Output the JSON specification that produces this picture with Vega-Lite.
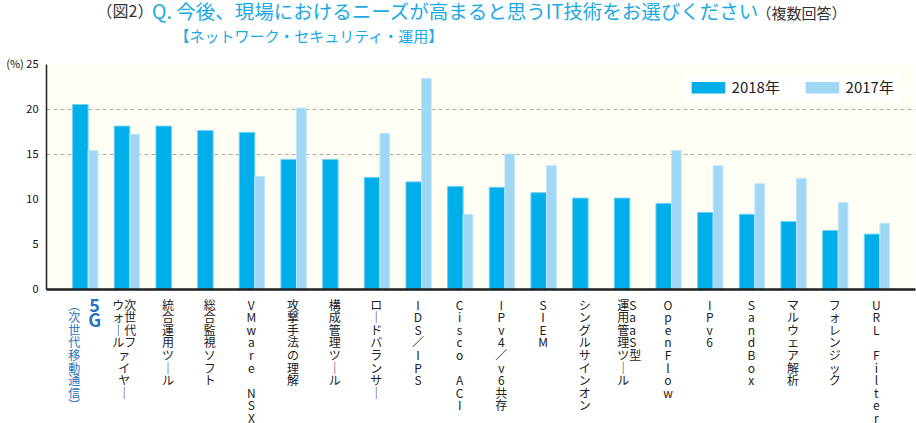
{
  "$schema": "https://vega.github.io/schema/vega-lite/v6.json",
  "width": 869,
  "height": 225,
  "autosize": {"type": "none"},
  "padding": {"left": 46, "top": 64, "right": 1, "bottom": 134},
  "background": "white",
  "view": {"fill": "#FFFEF4", "stroke": null},
  "title": {
    "text": "Q. 今後、現場におけるニーズが高まると思うIT技術をお選びください",
    "subtitle": "\u200b\u3000\u3000【ネットワーク・セキュリティ・運用】",
    "anchor": "start",
    "frame": "group",
    "dx": 106,
    "dy": 43,
    "offset": 0,
    "font": "Noto Sans CJK JP",
    "fontSize": 19.5,
    "fontWeight": "normal",
    "color": "#1AA9E3",
    "subtitleFont": "Noto Sans CJK JP",
    "subtitleFontSize": 15,
    "subtitleColor": "#1AA9E3",
    "subtitlePadding": 7
  },
  "data": {
    "values": [
      {"item": "5G（次世代移動通信）", "year": "2018年", "value": 20.5},
      {"item": "5G（次世代移動通信）", "year": "2017年", "value": 15.4},
      {"item": "次世代ファイヤーウォール", "year": "2018年", "value": 18.1},
      {"item": "次世代ファイヤーウォール", "year": "2017年", "value": 17.2},
      {"item": "統合運用ツール", "year": "2018年", "value": 18.1},
      {"item": "総合監視ソフト", "year": "2018年", "value": 17.6},
      {"item": "VMware NSX", "year": "2018年", "value": 17.4},
      {"item": "VMware NSX", "year": "2017年", "value": 12.5},
      {"item": "攻撃手法の理解", "year": "2018年", "value": 14.4},
      {"item": "攻撃手法の理解", "year": "2017年", "value": 20.1},
      {"item": "構成管理ツール", "year": "2018年", "value": 14.4},
      {"item": "ロードバランサー", "year": "2018年", "value": 12.4},
      {"item": "ロードバランサー", "year": "2017年", "value": 17.3},
      {"item": "IDS／IPS", "year": "2018年", "value": 11.9},
      {"item": "IDS／IPS", "year": "2017年", "value": 23.4},
      {"item": "Cisco ACI", "year": "2018年", "value": 11.4},
      {"item": "Cisco ACI", "year": "2017年", "value": 8.3},
      {"item": "IPv4／v6共存", "year": "2018年", "value": 11.3},
      {"item": "IPv4／v6共存", "year": "2017年", "value": 15.0},
      {"item": "SIEM", "year": "2018年", "value": 10.7},
      {"item": "SIEM", "year": "2017年", "value": 13.7},
      {"item": "シングルサインオン", "year": "2018年", "value": 10.1},
      {"item": "SaaS型運用管理ツール", "year": "2018年", "value": 10.1},
      {"item": "OpenFlow", "year": "2018年", "value": 9.5},
      {"item": "OpenFlow", "year": "2017年", "value": 15.4},
      {"item": "IPv6", "year": "2018年", "value": 8.5},
      {"item": "IPv6", "year": "2017年", "value": 13.7},
      {"item": "SandBox", "year": "2018年", "value": 8.3},
      {"item": "SandBox", "year": "2017年", "value": 11.7},
      {"item": "マルウェア解析", "year": "2018年", "value": 7.5},
      {"item": "マルウェア解析", "year": "2017年", "value": 12.3},
      {"item": "フォレンジック", "year": "2018年", "value": 6.5},
      {"item": "フォレンジック", "year": "2017年", "value": 9.6},
      {"item": "URL Filter", "year": "2018年", "value": 6.1},
      {"item": "URL Filter", "year": "2017年", "value": 7.3}
    ]
  },
  "encoding": {
    "x": {
      "field": "item",
      "type": "nominal",
      "sort": null,
      "scale": {
        "domain": ["5G（次世代移動通信）", "次世代ファイヤーウォール", "統合運用ツール", "総合監視ソフト", "VMware NSX", "攻撃手法の理解", "構成管理ツール", "ロードバランサー", "IDS／IPS", "Cisco ACI", "IPv4／v6共存", "SIEM", "シングルサインオン", "SaaS型運用管理ツール", "OpenFlow", "IPv6", "SandBox", "マルウェア解析", "フォレンジック", "URL Filter"],
        "paddingInner": 0,
        "paddingOuter": 0.4275
      },
      "axis": {
        "zindex": 1,
        "domain": true,
        "domainColor": "#1E1E1E",
        "domainWidth": 2.5,
        "ticks": false,
        "labelAngle": 0,
        "labelOverlap": false,
        "labelFont": "Noto Sans CJK JP",
        "labelFontSize": 12,
        "labelLineHeight": 12.6,
        "labelBaseline": "top",
        "labelPadding": 11,
        "labelColor": {"expr": "datum.value == '5G（次世代移動通信）' ? '#2A72BE' : '#222222'"},
        "labelOffset": {"expr": "datum.value == '5G（次世代移動通信）' ? -10.5 : datum.value == 'SaaS型運用管理ツール' ? -9 : datum.value == '次世代ファイヤーウォール' ? -2 : 0"},
        "labelAlign": {"expr": "datum.value == 'SaaS型運用管理ツール' ? 'left' : 'center'"},
        "labelExpr": "datum.value == '5G（次世代移動通信）' ? ['︵','次','世','代','移','動','通','信','︶'] : datum.value == '次世代ファイヤーウォール' ? ['ウ次','ォ世','｜代','ルフ','　ァ','　イ','　ヤ','　｜'] : datum.value == 'SaaS型運用管理ツール' ? ['運S','用a','管a','理S','ツ型','｜','ル'] : split(replace(replace(datum.value, regexp('ー','g'), '｜'), regexp(' ','g'), '\u200b'), '')",
        "title": "（複数回答）",
        "titleFont": "Noto Sans CJK JP",
        "titleFontSize": 15,
        "titleFontWeight": "normal",
        "titleColor": "#333333",
        "titleAlign": "left",
        "titleBaseline": "middle",
        "titleAngle": 0,
        "titleX": 710,
        "titleY": -276
      }
    }
  },
  "layer": [
    {
      "transform": [{"filter": "datum.year == '2018年'"}],
      "mark": {"type": "bar", "width": 15.5, "xOffset": -4.3, "stroke": "#6FD0F2", "strokeWidth": 1},
      "encoding": {
        "y": {
          "field": "value",
          "type": "quantitative",
          "scale": {"domain": [0, 25], "nice": false},
          "axis": {
            "values": [0, 5, 10, 15, 20, 25],
            "domain": true,
            "domainColor": "#1E1E1E",
            "domainWidth": 1.5,
            "ticks": false,
            "labelPadding": 8,
            "labelFont": "Noto Sans CJK JP",
            "labelFontSize": 11,
            "labelColor": "#111111",
            "labelOverlap": false,
            "labelExpr": "datum.value == 25 ? '(%)  25' : datum.label",
            "grid": true,
            "gridColor": "#AAAAAA",
            "gridDash": [4, 3],
            "gridWidth": 1,
            "gridOpacity": {"condition": {"test": "datum.value == 15 || datum.value == 20", "value": 1}, "value": 0},
            "title": "（図2）",
            "titleFont": "Noto Sans CJK JP",
            "titleFontSize": 16,
            "titleFontWeight": "normal",
            "titleColor": "#333333",
            "titleAngle": 0,
            "titleAlign": "left",
            "titleBaseline": "middle",
            "titleX": 50,
            "titleY": -53
          }
        },
        "color": {
          "field": "year",
          "type": "nominal",
          "scale": {"domain": ["2018年", "2017年"], "range": ["#00AEEA", "#9FD7F5"]},
          "legend": {
            "title": null,
            "orient": "none",
            "legendX": 639,
            "legendY": 11,
            "direction": "horizontal",
            "fillColor": "white",
            "padding": 5,
            "symbolType": "M-1,-1H4.74V1H-1Z",
            "symbolSize": 137,
            "symbolStrokeWidth": 0,
            "symbolOpacity": 1,
            "labelFont": "Noto Sans CJK JP",
            "labelFontSize": 15,
            "labelColor": "#222222",
            "labelOffset": 26.6,
            "columnPadding": 24
          }
        }
      }
    },
    {
      "transform": [{"filter": "datum.year == '2017年'"}],
      "mark": {"type": "bar", "width": 9.7, "xOffset": 8.4, "stroke": "#C2E6F9", "strokeWidth": 1},
      "encoding": {
        "y": {"field": "value", "type": "quantitative"},
        "color": {"field": "year", "type": "nominal"}
      }
    },
    {
      "data": {"values": [{"item": "5G（次世代移動通信）", "t": ["5", "G"]}]},
      "mark": {"type": "text", "font": "Noto Sans CJK JP", "fontSize": 18, "fontWeight": "bold", "color": "#2A72BE", "baseline": "top", "align": "center", "dx": 10, "dy": 9, "lineHeight": 15},
      "encoding": {
        "y": {"datum": 0, "type": "quantitative"},
        "text": {"field": "t", "type": "nominal"}
      }
    }
  ]
}
